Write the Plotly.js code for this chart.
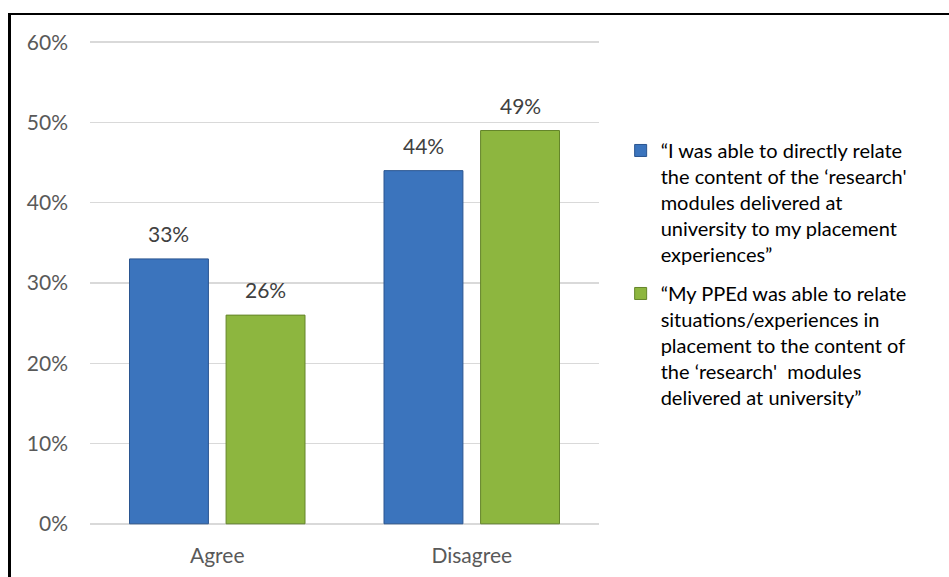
<!DOCTYPE html>
<html>
<head>
<meta charset="utf-8">
<script src="https://cdn.plot.ly/plotly-3.0.1.min.js"></script>
<style>
html,body{margin:0;padding:0;background:#fff;}
#frame{position:absolute;left:8px;top:13px;width:941px;height:564px;border-top:2px solid #000;border-left:3px solid #000;}
#chart{position:absolute;left:0;top:0;width:949px;height:577px;}
</style>
</head>
<body>
<div id="chart"></div>
<div id="frame"></div>
<script>
const categories = ["Agree", "Disagree"];
const seriesNames = [
  "“I was able to directly relate<br>the content of the ‘research'<br>modules delivered at<br>university to my placement<br>experiences”",
  "“My PPEd was able to relate<br>situations/experiences in<br>placement to the content of<br>the ‘research'  modules<br>delivered at university”"
];
const studentValues = [0.33, 0.44];
const ppedValues = [0.26, 0.49];
const yTicks = [0, 0.1, 0.2, 0.3, 0.4, 0.5, 0.6];

const fontFam = "Lato, 'Open Sans', sans-serif";
const series = [studentValues, ppedValues];
const colors = ["#3b74bd", "#8db63f"];
const lineColors = ["#2a5590", "#64852a"];

const traces = series.map((vals, i) => ({
  type: "bar",
  x: categories,
  y: vals,
  name: seriesNames[i],
  legendgroup: "g" + i,
  marker: {color: colors[i], line: {color: lineColors[i], width: 1}},
  hoverinfo: "skip"
}));

const offsets = [-0.19, 0.19];
const annotations = [];
series.forEach((vals, i) => {
  vals.forEach((v, j) => {
    annotations.push({
      x: j + offsets[i], y: v, xref: "x", yref: "y",
      text: Math.round(v * 100) + "%",
      showarrow: false, yanchor: "bottom", yshift: 11,
      font: {family: fontFam, size: 21, color: "#404040"}
    });
  });
});

const layout = {
  width: 949, height: 577,
  margin: {l: 90, r: 350, t: 39, b: 50},
  paper_bgcolor: "#fff", plot_bgcolor: "#fff",
  barmode: "group", bargap: 0.241, bargroupgap: 0.183,
  showlegend: true,
  legend: {
    xref: "container", yref: "container",
    x: 0.654, y: 0.773, xanchor: "left", yanchor: "top",
    font: {family: fontFam, size: 20, color: "#000"},
    tracegroupgap: 10, itemwidth: 30, valign: "top",
    traceorder: "grouped"
  },
  xaxis: {
    type: "category",
    tickfont: {family: fontFam, size: 21, color: "#595959"},
    showgrid: false, zeroline: false, showline: false,
    ticks: "", ticklabelstandoff: 14
  },
  yaxis: {
    range: [-0.004, 0.604],
    tickvals: yTicks,
    tickformat: ".0%",
    tickfont: {family: fontFam, size: 21, color: "#595959"},
    showgrid: true, gridcolor: "#d9d9d9", gridwidth: 1.5,
    zeroline: false, showline: false, ticks: "",
    ticklabelstandoff: 21
  },
  annotations: annotations
};

Plotly.newPlot("chart", traces, layout, {displayModeBar: false, staticPlot: true});
</script>
</body>
</html>
